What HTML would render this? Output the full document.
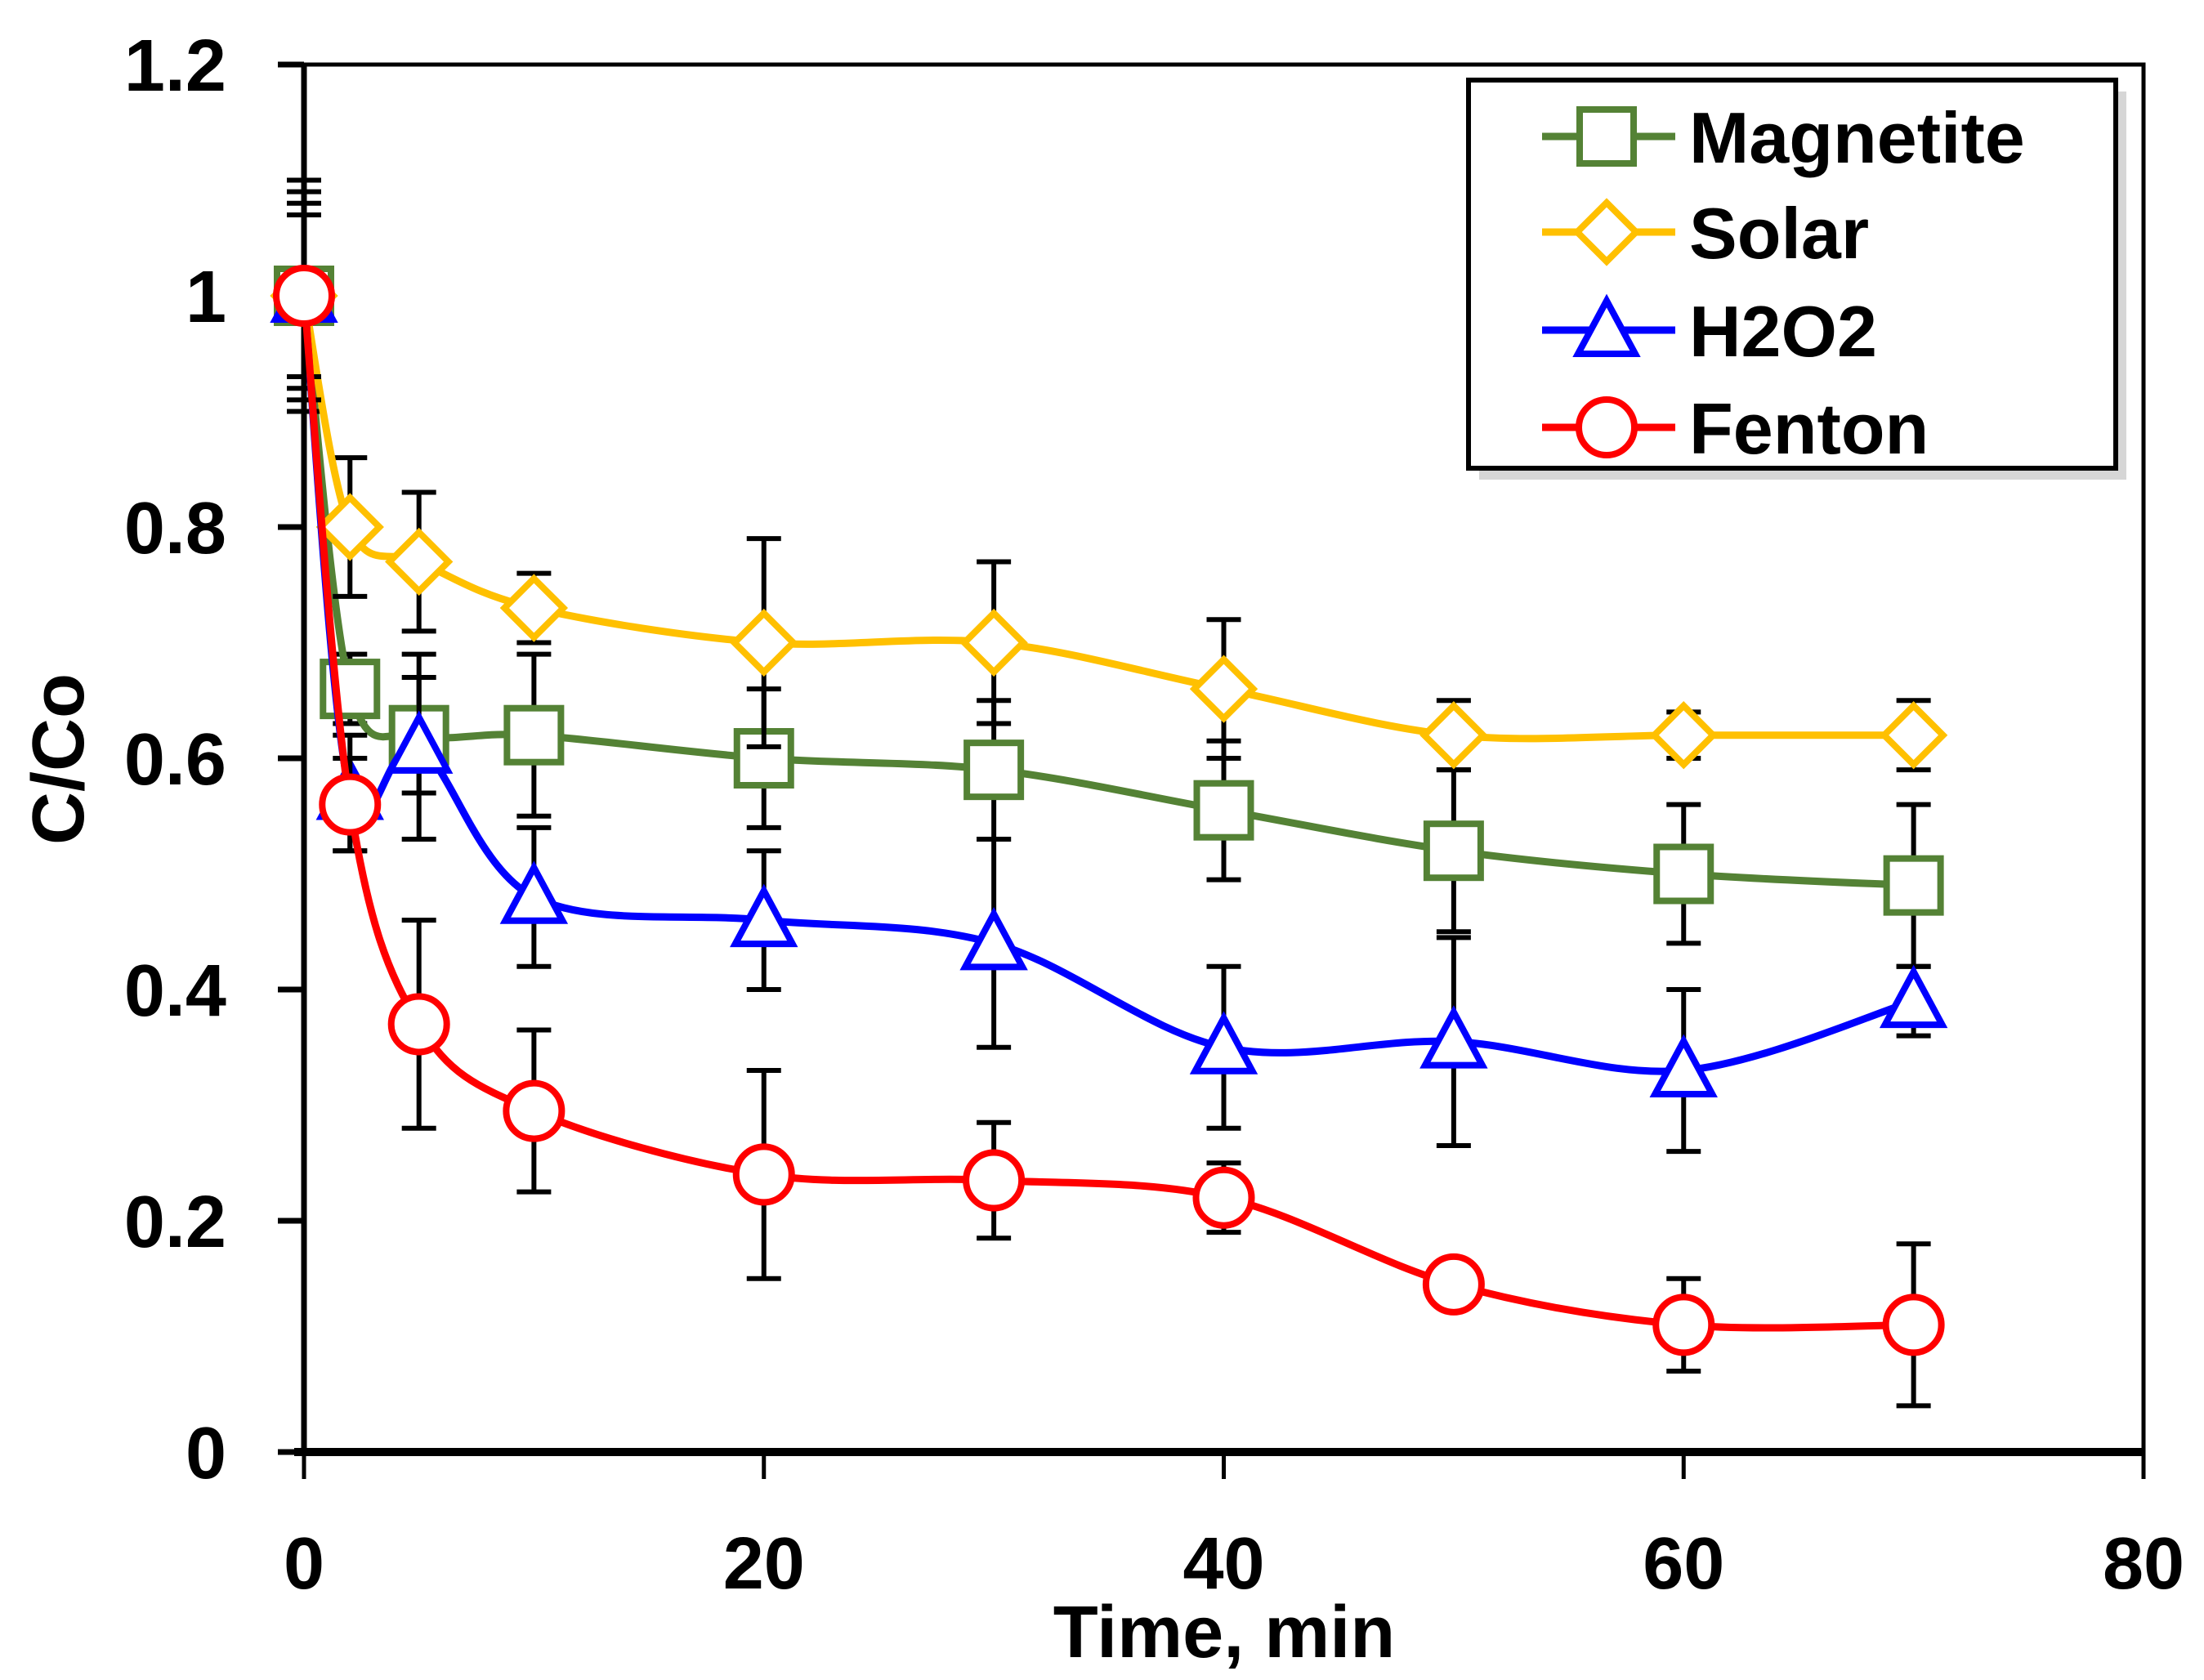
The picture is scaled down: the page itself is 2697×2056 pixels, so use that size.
<!DOCTYPE html>
<html><head><meta charset="utf-8"><style>
html,body{margin:0;padding:0;background:#fff;}
svg{display:block;font-family:"Liberation Sans",sans-serif;font-weight:bold;}
</style></head><body>
<svg id="chart" width="2697" height="2056" viewBox="0 0 2697 2056" xmlns="http://www.w3.org/2000/svg">
<rect width="2697" height="2056" fill="#fff"/>
<g id="plot"></g>
</svg>
<script>
const xs = [0,2,5,10,20,30,40,50,60,70];
const magnetite = [1,0.66,0.62,0.62,0.60,0.59,0.555,0.52,0.50,0.49];
const magnetiteErr = [0.08,0.03,0.05,0.07,0.06,0.06,0.06,0.07,0.06,0.07];
const solar = [1,0.80,0.77,0.73,0.70,0.70,0.66,0.62,0.62,0.62];
const solarErr = [0.1,0.06,0.06,0.03,0.09,0.07,0.06,0.03,0.02,0.03];
const h2o2 = [1,0.57,0.61,0.48,0.46,0.44,0.35,0.355,0.33,0.39];
const h2o2Err = [0.07,0.05,0.08,0.06,0.06,0.09,0.07,0.09,0.07,0.03];
const fenton = [1,0.56,0.37,0.295,0.24,0.235,0.22,0.145,0.11,0.11];
const fentonErr = [0.09,0.04,0.09,0.07,0.09,0.05,0.03,0.01,0.04,0.07];
const xTicks = [0,20,40,60,80];
const yTicks = [0,0.2,0.4,0.6,0.8,1,1.2];
const yTickLabels = ["0","0.2","0.4","0.6","0.8","1","1.2"];

const L=372,R=2623,T=79,B=1777;
const sx=v=>L+(v/80)*(R-L);
const sy=v=>B-(v/1.2)*(B-T);
const NS="http://www.w3.org/2000/svg";
const g=document.getElementById('plot');
function mk(tag,attrs,parent){const e=document.createElementNS(NS,tag);for(const k in attrs)e.setAttribute(k,attrs[k]);(parent||g).appendChild(e);return e;}

const frame=mk('rect',{x:L,y:T,width:R-L,height:B-T,fill:'none',stroke:'#000','stroke-width':5});


const xax=mk('line',{x1:L-12,y1:B,x2:R,y2:B,stroke:'#000','stroke-width':10});


const yax=mk('line',{x1:L,y1:T,x2:L,y2:B,stroke:'#000','stroke-width':7});



xTicks.forEach(v=>{
  const t=mk('line',{x1:sx(v),y1:B,x2:sx(v),y2:B+33,stroke:'#000','stroke-width':5});
  
  
  const tx=mk('text',{x:sx(v),y:1944,'font-size':90,'text-anchor':'middle'});
  tx.textContent=v;
  
  
});
yTicks.forEach((v,i)=>{
  const t=mk('line',{x1:L-32,y1:sy(v),x2:L,y2:sy(v),stroke:'#000','stroke-width':7});
  
  
  const tx=mk('text',{x:277,y:sy(v)+32,'font-size':90,'text-anchor':'end'});
  tx.textContent=yTickLabels[i];
  
  
});
const xt=mk('text',{x:1498,y:2028,'font-size':90,'text-anchor':'middle'});
xt.textContent='Time, min';


const yt=mk('text',{x:0,y:0,'font-size':90,'text-anchor':'middle',transform:'translate(102,929) rotate(-90)'});
yt.textContent='C/Co';



function smoothPath(pts){
  let d=`M${pts[0][0]},${pts[0][1]}`;
  for(let i=0;i<pts.length-1;i++){
    const p0=pts[Math.max(i-1,0)],p1=pts[i],p2=pts[i+1],p3=pts[Math.min(i+2,pts.length-1)];
    const t=0.5/3;
    const c1=[p1[0]+(p2[0]-p0[0])*t,p1[1]+(p2[1]-p0[1])*t];
    const c2=[p2[0]-(p3[0]-p1[0])*t,p2[1]-(p3[1]-p1[1])*t];
    d+=` C${c1[0]},${c1[1]} ${c2[0]},${c2[1]} ${p2[0]},${p2[1]}`;
  }
  return d;
}
function marker(type,cx,cy,color,parent){
  let m;
  const sw=8;
  if(type==='square') m=mk('rect',{x:cx-33,y:cy-33,width:66,height:66,fill:'#fff',stroke:color,'stroke-width':sw},parent);
  else if(type==='diamond') m=mk('polygon',{points:`${cx},${cy-36} ${cx+36},${cy} ${cx},${cy+36} ${cx-36},${cy}`,fill:'#fff',stroke:color,'stroke-width':sw},parent);
  else if(type==='triangle') m=mk('polygon',{points:`${cx},${cy-36} ${cx+35},${cy+29} ${cx-35},${cy+29}`,fill:'#fff',stroke:color,'stroke-width':sw},parent);
  else m=mk('circle',{cx:cx,cy:cy,r:34,fill:'#fff',stroke:color,'stroke-width':sw},parent);
  return m;
}
const series=[
  {name:'magnetite',vals:magnetite,err:magnetiteErr,color:'#548235',m:'square'},
  {name:'solar',vals:solar,err:solarErr,color:'#ffc000',m:'diamond'},
  {name:'h2o2',vals:h2o2,err:h2o2Err,color:'#0000ff',m:'triangle'},
  {name:'fenton',vals:fenton,err:fentonErr,color:'#ff0000',m:'circle'}
];
series.forEach(s=>{
  const sg=mk('g',{});
  
  
  s.vals.forEach((v,i)=>{
    const x=sx(xs[i]),y1=sy(v+s.err[i]),y2=sy(v-s.err[i]);
    const e=mk('path',{d:`M${x},${y1} V${y2} M${x-21},${y1} H${x+21} M${x-21},${y2} H${x+21}`,stroke:'#000','stroke-width':6,fill:'none'},sg);
    
    
  });
  const pts=s.vals.map((v,i)=>[sx(xs[i]),sy(v)]);
  const ln=mk('path',{d:smoothPath(pts),fill:'none',stroke:s.color,'stroke-width':9},sg);
  
  
  pts.forEach(p=>{
    const m=marker(s.m,p[0],p[1],s.color,sg);
    
    
  });
});

const lg=mk('g',{});


mk('rect',{x:1810,y:112,width:792,height:475,fill:'#bbb',opacity:0.6},lg);
mk('rect',{x:1797,y:98,width:792,height:475,fill:'#fff',stroke:'#000','stroke-width':6},lg);
const legNames=['Magnetite','Solar','H2O2','Fenton'];
const legY=[167,284,404,523];
series.forEach((s,i)=>{
  const e=mk('g',{},lg);
  
  
  mk('line',{x1:1887,y1:legY[i],x2:2050,y2:legY[i],stroke:s.color,'stroke-width':9},e);
  marker(s.m,1966,legY[i],s.color,e);
  const t=mk('text',{x:2067,y:legY[i]+32,'font-size':88},e);
  t.textContent=legNames[i];
});
</script>
</body></html>
